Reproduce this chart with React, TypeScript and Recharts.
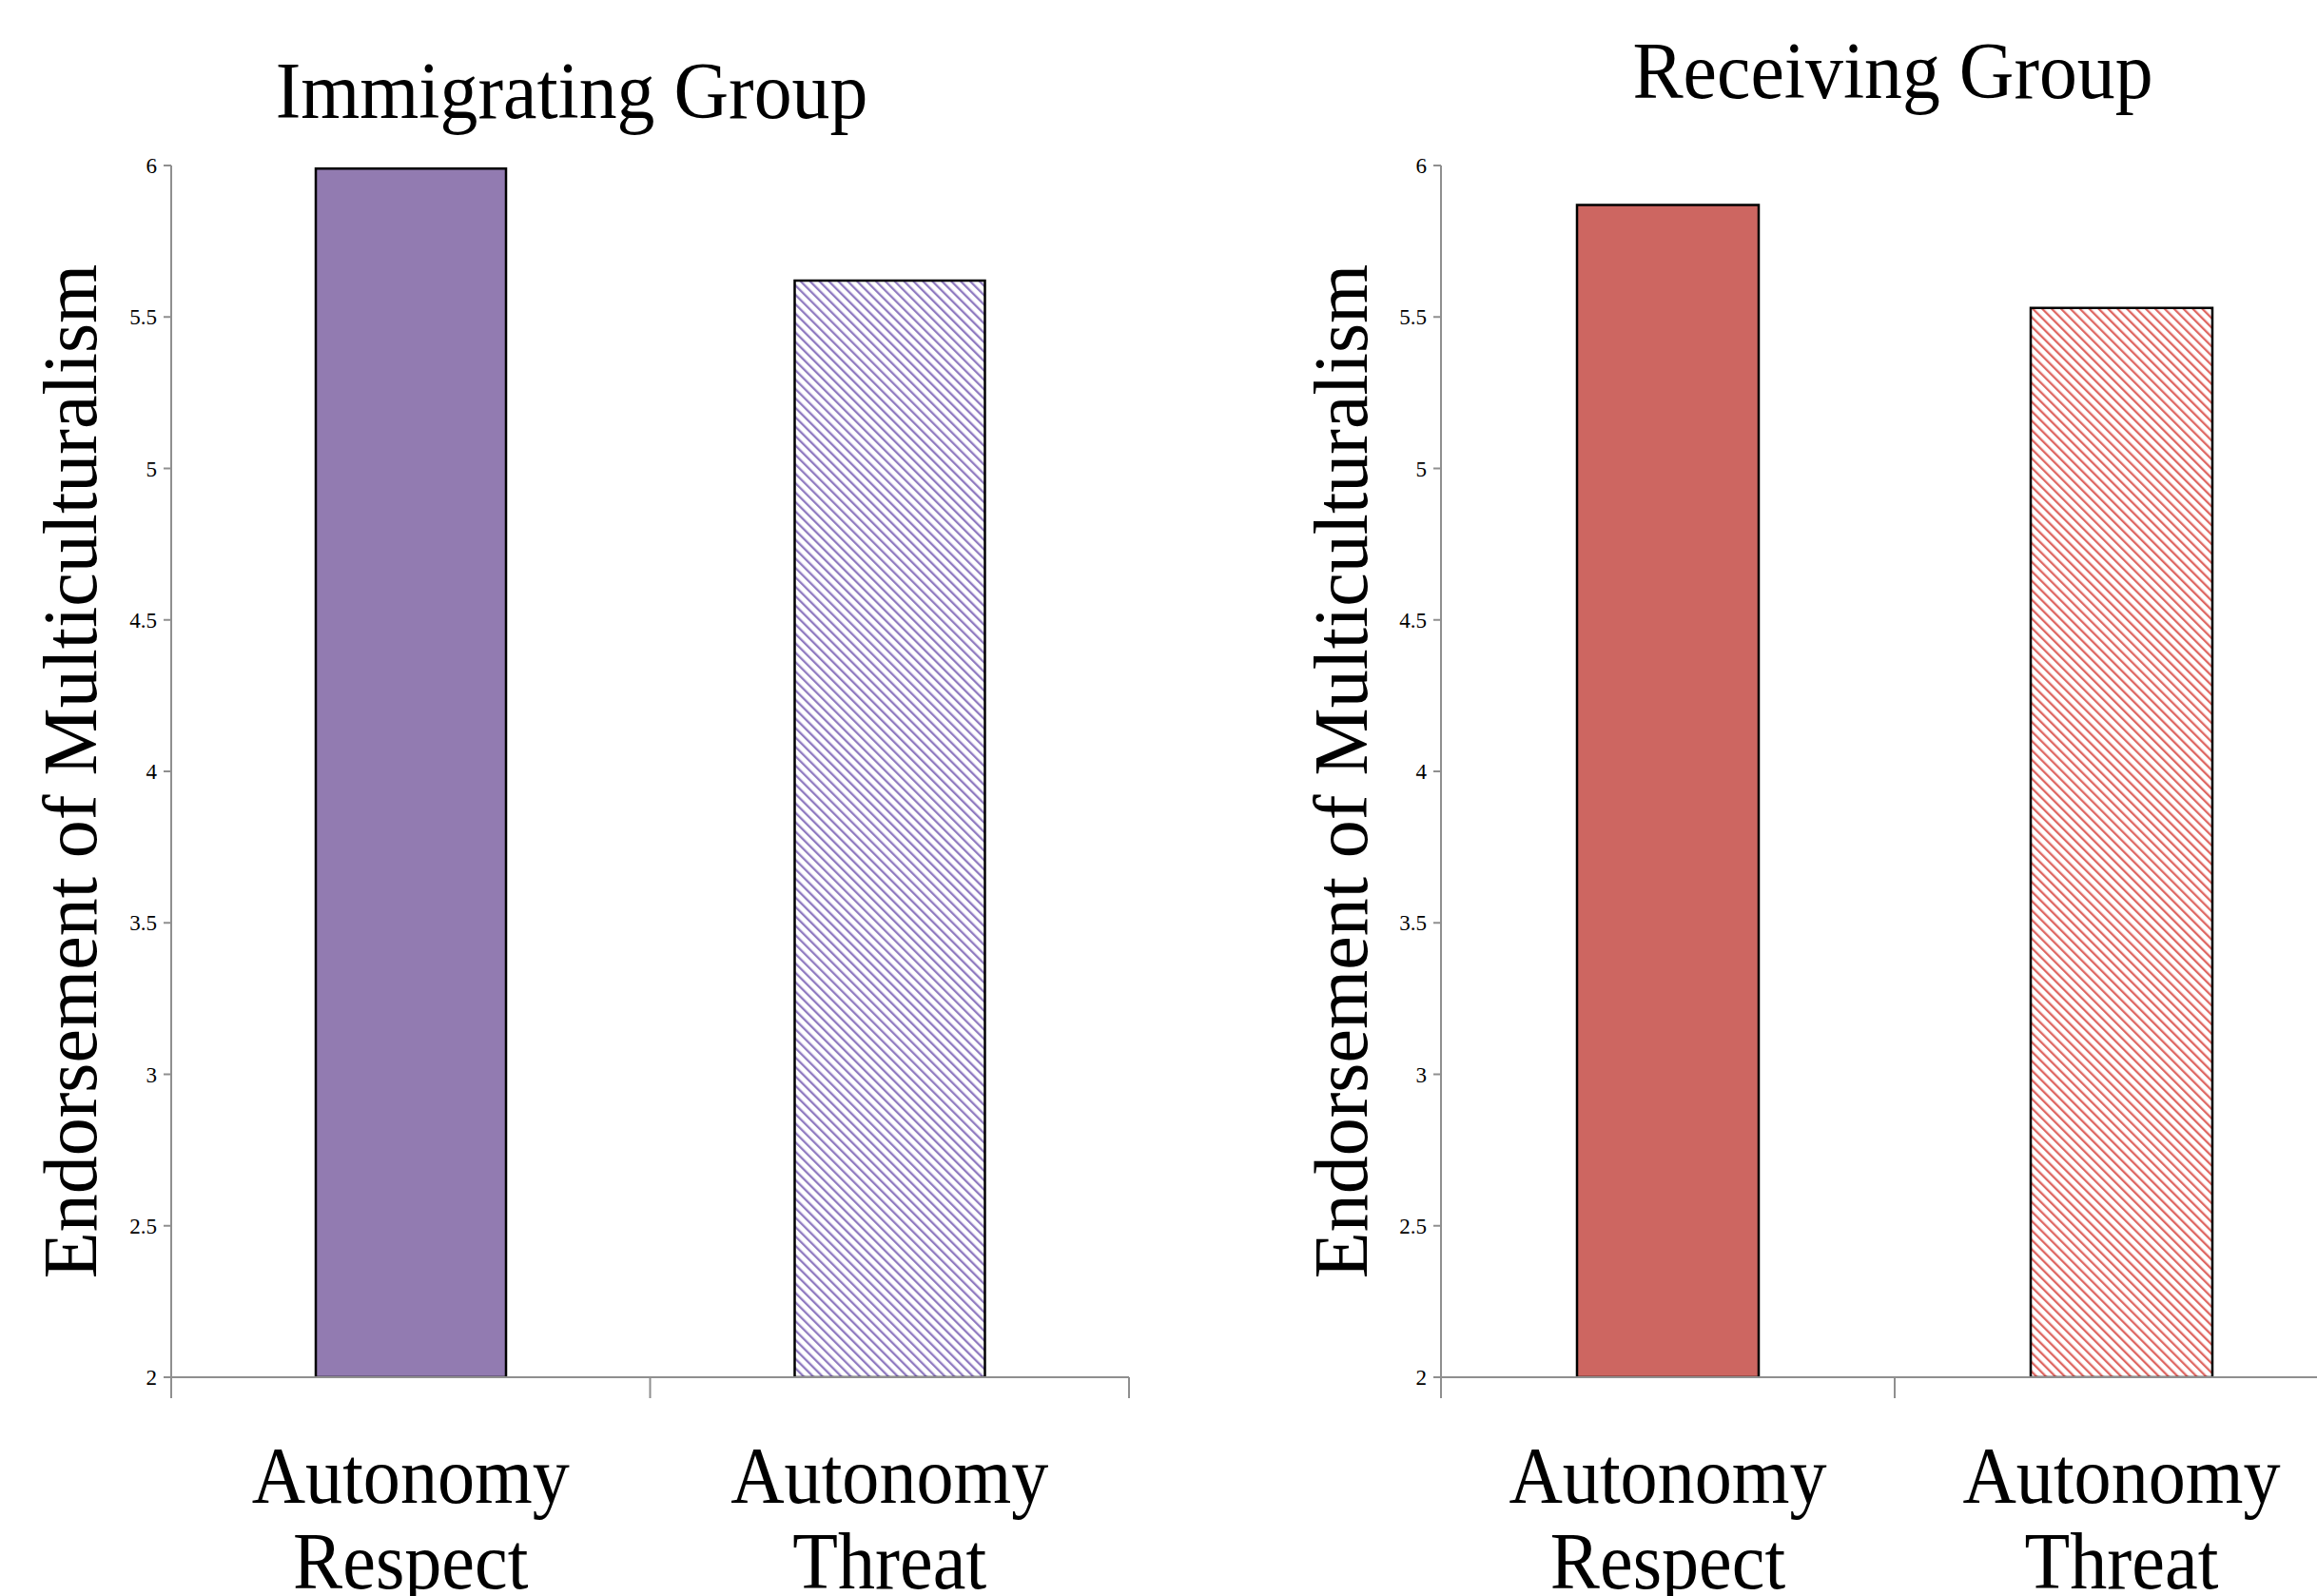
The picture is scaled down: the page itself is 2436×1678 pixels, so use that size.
import React from 'react'
import { BarChart, Bar, XAxis, YAxis, Cell } from 'recharts'

const categories = ['Autonomy Respect', 'Autonomy Threat']
const immigratingValues = [5.99, 5.62]
const receivingValues = [5.87, 5.53]
const yTicks = [2, 2.5, 3, 3.5, 4, 4.5, 5, 5.5, 6]
const titles = ['Immigrating Group', 'Receiving Group']
const yLabel = 'Endorsement of Multiculturalism'

const FONT = '"Liberation Serif", "Times New Roman", serif'
const AXIS = '#8f8f8f'

function CategoryTick(props: any): React.JSX.Element {
  const { x, y, payload, index, half } = props
  const h = payload && payload.offset ? payload.offset : half
  const words = String(payload.value).split(' ')
  const last = index === categories.length - 1
  return (
    <g>
      <line x1={x - h} y1={y} x2={x - h} y2={y + 22} stroke={AXIS} strokeWidth={2} />
      {last && <line x1={x + h} y1={y} x2={x + h} y2={y + 22} stroke={AXIS} strokeWidth={2} />}
      <g transform={`translate(${x},${y}) scale(0.93,1)`}>
        {words.map((w, i) => (
          <text key={w} x={0} y={132 + i * 90} textAnchor="middle" fontSize={84} fontFamily={FONT} fill="#000">
            {w}
          </text>
        ))}
      </g>
    </g>
  )
}

interface PanelProps {
  values: number[]
  solid: string
  stripe: string
  id: string
  width: number
  marginLeft: number
  marginRight: number
  barSize: number
  half: number
}

function Panel({ values, solid, stripe, id, width, marginLeft, marginRight, barSize, half }: PanelProps): React.JSX.Element {
  const data = categories.map((c, i) => ({ name: c, value: values[i] }))
  return (
    <BarChart
      width={width}
      height={1678}
      data={data}
      margin={{ top: 174, right: marginRight, bottom: 0, left: marginLeft }}
      barCategoryGap={0}
    >
      <defs>
        <pattern id={id} width={7} height={7} patternUnits="userSpaceOnUse" patternTransform="rotate(-45)">
          <rect width={7} height={7} fill="#fff" />
          <rect width={2.3} height={7} fill={stripe} />
        </pattern>
      </defs>
      <XAxis
        dataKey="name"
        height={230}
        interval={0}
        tickSize={0}
        tickMargin={0}
        tickLine={false}
        axisLine={{ stroke: AXIS, strokeWidth: 2 }}
        tick={(p: any) => <CategoryTick {...p} half={half} />}
      />
      <YAxis
        width={100}
        domain={[2, 6]}
        ticks={yTicks}
        interval={0}
        allowDataOverflow
        tickSize={8}
        tickMargin={7}
        axisLine={{ stroke: AXIS, strokeWidth: 2 }}
        tickLine={{ stroke: AXIS, strokeWidth: 2 }}
        tick={{ fill: '#000', fontSize: 23, fontFamily: FONT }}
      />
      <Bar dataKey="value" barSize={barSize} stroke="#000" strokeWidth={2.5} isAnimationActive={false}>
        {data.map((d, i) => (
          <Cell key={d.name} fill={i === 0 ? solid : `url(#${id})`} />
        ))}
      </Bar>
    </BarChart>
  )
}

export default function App(): React.JSX.Element {
  return (
    <div style={{ position: 'absolute', left: 0, top: 0, width: 2436, height: 1678, overflow: 'hidden', background: '#fff' }}>
      <div style={{ position: 'absolute', left: 0, top: 0 }}>
        <Panel values={immigratingValues} solid="#927bb1" stripe="#8f7ac0" id="hatchPurple"
          width={1250} marginLeft={80} marginRight={63} barSize={200} half={251.75} />
      </div>
      <div style={{ position: 'absolute', left: 1415, top: 0 }}>
        <Panel values={receivingValues} solid="#cd6661" stripe="#de6661" id="hatchRed"
          width={1100} marginLeft={0} marginRight={46} barSize={191} half={238.5} />
      </div>
      <svg width={2436} height={1678} style={{ position: 'absolute', left: 0, top: 0, pointerEvents: 'none' }}>
        <g transform="translate(601,124) scale(0.95,1)">
          <text textAnchor="middle" fontSize={84} fontFamily={FONT} fill="#000">{titles[0]}</text>
        </g>
        <g transform="translate(1990,103) scale(0.95,1)">
          <text textAnchor="middle" fontSize={84} fontFamily={FONT} fill="#000">{titles[1]}</text>
        </g>
        <text transform="translate(101,811) rotate(-90)" textAnchor="middle" fontSize={80} fontFamily={FONT} fill="#000">{yLabel}</text>
        <text transform="translate(1437,811) rotate(-90)" textAnchor="middle" fontSize={80} fontFamily={FONT} fill="#000">{yLabel}</text>
      </svg>
    </div>
  )
}
